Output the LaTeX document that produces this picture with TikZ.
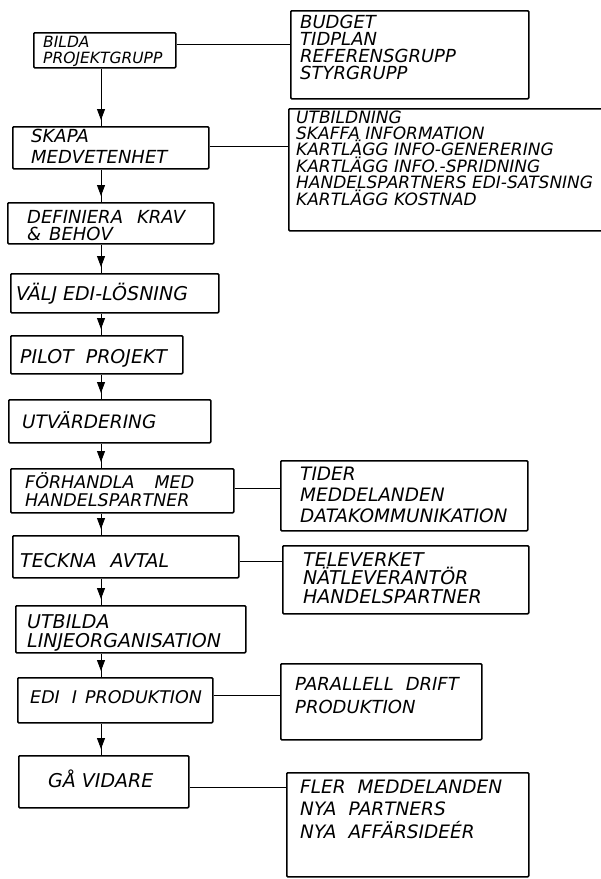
\documentclass[tikz,border=0pt]{standalone}
\usepackage{fontspec}
\setmainfont{DejaVu Sans}
\usetikzlibrary{arrows.meta,decorations.markings}
% hand-lettering look: oblique sans, size and line spacing per block
\newcommand\handfont[2]{\fontsize{#1}{#2}\selectfont\itshape}

\begin{document}
\begin{tikzpicture}[x=1pt,y=-1pt,
  stage/.style={draw, line width=1.6pt, rounded corners=1pt, inner sep=0pt, anchor=north west},
  % text blocks are placed by the baseline of their last line
  txt/.style={anchor=base west, inner sep=0pt, align=left},
  link/.style={line width=0.9pt},
  flow/.style={line width=0.9pt, postaction={decorate},
    decoration={markings, mark=at position -6pt with {\arrow{Triangle[length=11pt,width=8pt]}}}}
]
\clip (0,0) rectangle (601,879);
\fill[white] (0,0) rectangle (601,879);

% ---- process steps (left column)
\node[stage, minimum width=142pt, minimum height=35pt] (bilda)   at (33,32)  {};
\node[stage, minimum width=196pt, minimum height=42pt] (skapa)   at (12,126) {};
\node[stage, minimum width=206pt, minimum height=41pt] (krav)    at (7,202)  {};
\node[stage, minimum width=208pt, minimum height=39pt] (valj)    at (10,273) {};
\node[stage, minimum width=172pt, minimum height=38pt] (pilot)   at (10,335) {};
\node[stage, minimum width=202pt, minimum height=43pt] (utv)     at (8,399)  {};
\node[stage, minimum width=223pt, minimum height=44pt] (forh)    at (10,468) {};
\node[stage, minimum width=226pt, minimum height=42pt] (avtal)   at (12,535) {};
\node[stage, minimum width=230pt, minimum height=47pt] (linje)   at (15,605) {};
\node[stage, minimum width=195pt, minimum height=45pt] (prod)    at (17,677) {};
\node[stage, minimum width=170pt, minimum height=52pt] (vidare)  at (18,755) {};

\node[txt, font=\handfont{15.5}{16}] (tbilda) at (43,63) {BILDA\\PROJEKTGRUPP};
\node[txt, font=\handfont{18}{21}] (tskapa) at (31,163) {SKAPA\\MEDVETENHET};
\node[txt, font=\handfont{18}{17}] (tkrav)  at (27,240) {DEFINIERA\hspace{14pt}KRAV\\\&\hspace{8pt}BEHOV};
\node[txt, font=\handfont{19}{19}] (tvalj)  at (16,300) {VÄLJ EDI-LÖSNING};
\node[txt, font=\handfont{19}{19}] (tpilot) at (20,363) {PILOT\hspace{12pt}PROJEKT};
\node[txt, font=\handfont{18.5}{19}] (tutv) at (22,428) {UTVÄRDERING};
\node[txt, font=\handfont{17.5}{17.5}] (tforh) at (25,506) {FÖRHANDLA\hspace{20pt}MED\\HANDELSPARTNER};
\node[txt, font=\handfont{19}{19}] (tavtal) at (20,567) {TECKNA\hspace{14pt}AVTAL};
\node[txt, font=\handfont{19}{19}] (tlinje) at (27,647) {UTBILDA\\LINJEORGANISATION};
\node[txt, font=\handfont{17.5}{19}] (tprod) at (30,703) {EDI\hspace{12pt}I\hspace{8pt}PRODUKTION};
\node[txt, font=\handfont{19}{19}] (tvidare) at (48,787) {GÅ VIDARE};

% ---- notes (right column)
\node[stage, minimum width=238pt, minimum height=88pt]  (budget) at (290,10)  {};
\node[stage, minimum width=330pt, minimum height=122pt] (info)   at (288,108) {};
\node[stage, minimum width=247pt, minimum height=70pt]  (tider)  at (280,460) {};
\node[stage, minimum width=246pt, minimum height=68pt]  (tele)   at (282,545) {};
\node[stage, minimum width=201pt, minimum height=76pt]  (drift)  at (280,663) {};
\node[stage, minimum width=242pt, minimum height=104pt] (fler)   at (286,772) {};

\node[txt, font=\handfont{18}{17}] (tbudget) at (300,79)
  {BUDGET\\TIDPLAN\\REFERENSGRUPP\\STYRGRUPP};
\node[txt, font=\handfont{17}{15.5}] (tinfo) at (296,205)
  {UTBILDNING\\SKAFFA INFORMATION\\KARTLÄGG INFO-GENERERING\\KARTLÄGG INFO.-SPRIDNING\\HANDELSPARTNERS EDI-SATSNING\\KARTLÄGG KOSTNAD};
\node[txt, font=\handfont{18.5}{21}] (ttider) at (300,522)
  {TIDER\\MEDDELANDEN\\DATAKOMMUNIKATION};
\node[txt, font=\handfont{19}{18.5}] (ttele) at (303,603)
  {TELEVERKET\\NÄTLEVERANTÖR\\HANDELSPARTNER};
\node[txt, font=\handfont{18}{23}] (tdrift) at (295,713)
  {PARALLELL\hspace{12pt}DRIFT\\PRODUKTION};
\node[txt, font=\handfont{18.5}{22.5}] (tfler) at (300,838)
  {FLER\hspace{12pt}MEDDELANDEN\\NYA\hspace{12pt}PARTNERS\\NYA\hspace{12pt}AFFÄRSIDEÉR};

% ---- flow between steps
\coordinate (ax) at (101,0);
\draw[flow] (bilda.south -| ax) -- (skapa.north -| ax);
\draw[flow] (skapa.south -| ax) -- (krav.north -| ax);
\draw[flow] (krav.south -| ax)  -- (valj.north -| ax);
\draw[flow] (valj.south -| ax)  -- (pilot.north -| ax);
\draw[flow] (pilot.south -| ax) -- (utv.north -| ax);
\draw[flow] (utv.south -| ax)   -- (forh.north -| ax);
\draw[flow] (forh.south -| ax)  -- (avtal.north -| ax);
\draw[flow] (avtal.south -| ax) -- (linje.north -| ax);
\draw[flow] (linje.south -| ax) -- (prod.north -| ax);
\draw[flow] (prod.south -| ax)  -- (vidare.north -| ax);

% ---- links from steps to their notes
\coordinate (y1) at (0,44);
\coordinate (y2) at (0,146);
\coordinate (y3) at (0,488);
\coordinate (y4) at (0,561);
\coordinate (y5) at (0,695);
\coordinate (y6) at (0,787);
\draw[link] (bilda.east |- y1)  -- (budget.west |- y1);
\draw[link] (skapa.east |- y2)  -- (info.west |- y2);
\draw[link] (forh.east |- y3)   -- (tider.west |- y3);
\draw[link] (avtal.east |- y4)  -- (tele.west |- y4);
\draw[link] (prod.east |- y5)   -- (drift.west |- y5);
\draw[link] (vidare.east |- y6) -- (fler.west |- y6);
\end{tikzpicture}
\end{document}
